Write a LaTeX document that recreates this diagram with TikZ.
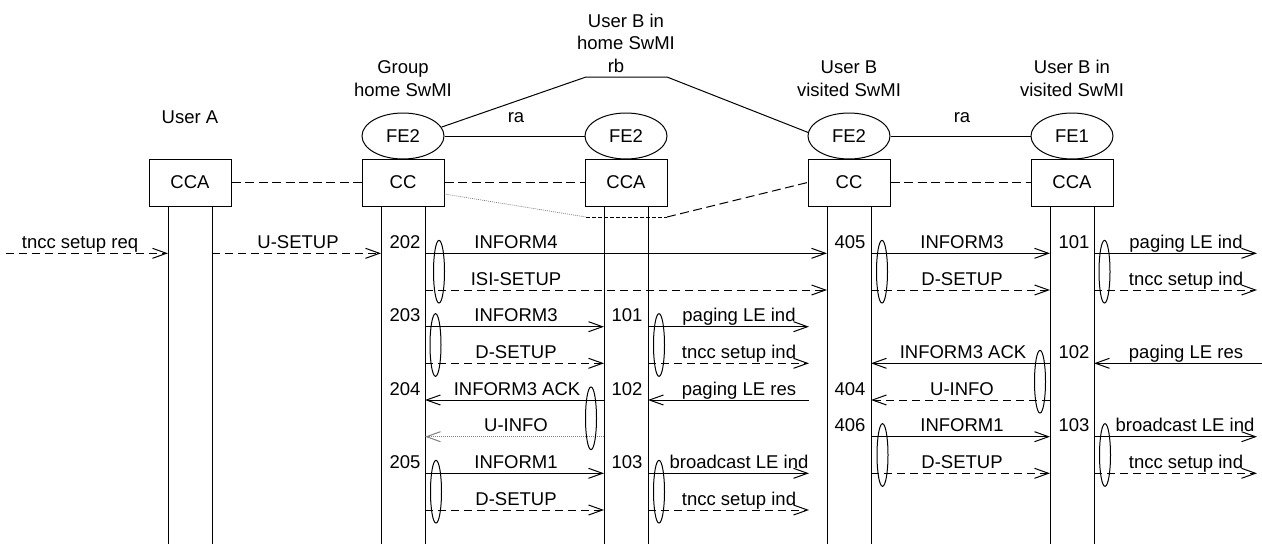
\documentclass[tikz,border=0pt]{standalone}
\usepackage{fontspec}
\setmainfont{Liberation Sans}
\usetikzlibrary{arrows.meta,shapes.geometric}
\begin{document}
\begin{tikzpicture}[x=1pt,y=-1pt,
  every node/.style={font=\fontsize{18.5}{22.5}\selectfont, inner sep=0pt},
  box/.style={draw, line width=1pt, minimum width=82pt, minimum height=47pt},
  fe/.style={draw, ellipse, line width=1pt, minimum width=82pt, minimum height=46pt},
  grp/.style={draw, ellipse, line width=1pt, minimum width=11pt, minimum height=62.7pt},
  ln/.style={line width=1pt},
  tdash/.style={line width=1pt, dash pattern=on 9pt off 4.5pt},
  msg/.style={line width=1pt, -{Straight Barb[length=14pt,width=10pt]}},
  dmsg/.style={msg, dash pattern=on 8pt off 5pt},
  gmsg/.style={msg, draw=gray, dash pattern=on 1pt off 1pt},
  lbl/.style={anchor=base},
  hdr/.style={anchor=south, align=center}]
\useasboundingbox (0,0) rectangle (1262,544);

% rows
\coordinate (r1) at (0,253.3);
\coordinate (r2) at (0,290);
\coordinate (r3) at (0,326.7);
\coordinate (r4) at (0,363.3);
\coordinate (r5) at (0,400);
\coordinate (r6) at (0,436.7);
\coordinate (r7) at (0,473.3);
\coordinate (r8) at (0,510);
\coordinate (bottom) at (0,544);
% lifelines x
\coordinate (aL) at (168,0);  \coordinate (aR) at (212,0);
\coordinate (gL) at (381,0);  \coordinate (gR) at (425,0);
\coordinate (hL) at (604,0);  \coordinate (hR) at (648,0);
\coordinate (vL) at (827,0);  \coordinate (vR) at (871,0);
\coordinate (bL) at (1050,0); \coordinate (bR) at (1094,0);
\coordinate (lft) at (6,0);
\coordinate (hEnd) at (809,0);
\coordinate (rtip) at (1257,0);
\coordinate (redge) at (1262,0);

% headers
\node[lbl] (hA) at (190,123.6) {User A};
\node[hdr] (hG) at (403,96.6) {Group\\home SwMI};
\node[hdr] (hH) at (626,50) {User B in\\home SwMI};
\node[hdr] (hV) at (849,96.6) {User B\\visited SwMI};
\node[hdr] (hB) at (1072,96.6) {User B in\\visited SwMI};
\node[lbl] (rbl) at (616,72) {rb};
\node[lbl] (ra1) at (516,122.5) {ra};
\node[lbl] (ra2) at (962,122.5) {ra};

% FE ellipses
\node[fe] (feG) at (403,136) {FE2};
\node[fe] (feH) at (626,136) {FE2};
\node[fe] (feV) at (849,136) {FE2};
\node[fe] (feB) at (1072,136) {FE1};

% boxes
\node[box] (boxA) at (190,182.5) {CCA};
\node[box] (boxG) at (403,182.5) {CC};
\node[box] (boxH) at (626,182.5) {CCA};
\node[box] (boxV) at (849,182.5) {CC};
\node[box] (boxB) at (1072,182.5) {CCA};

% FE links
\draw[ln] (feG.east) -- (feH.west);
\draw[ln] (feV.east) -- (feB.west);
\coordinate (rb1) at (586,77);
\coordinate (rb2) at (667,77);
\draw[ln] (feG.13) -- (rb1) -- (rb2) -- (feV.175);

% box links
\draw[tdash] (boxA.east) -- (boxG.west);
\draw[tdash] (boxG.east) -- (boxH.west);
\draw[tdash] (boxV.east) -- (boxB.west);
\coordinate (mj1) at (586,217);
\coordinate (mj2) at (667,217);
\draw[gray, line width=0.7pt, dash pattern=on 1pt off 1pt] ([yshift=-11.5pt]boxG.east) -- (mj1);
\draw[line width=1pt, dash pattern=on 4pt off 2pt] (mj1) -- (mj2);
\draw[tdash] (mj2) -- (boxV.west);

% lifelines
\foreach \c/\b in {aL/boxA,aR/boxA,gL/boxG,gR/boxG,hL/boxH,hR/boxH,vL/boxV,vR/boxV,bL/boxB,bR/boxB}
  \draw[ln] (\b.south -| \c) -- (\c |- bottom);

% row 1
\draw[dmsg] (lft |- r1) -- (aL |- r1);
\node[lbl] (t1) at (80,248.3) {tncc setup req};
\draw[dmsg] (aR |- r1) -- (gL |- r1);
\node[lbl] (t2) at (298,248.3) {U-SETUP};
\node[lbl] (n202) at (405,248.3) {202};
\draw[msg] (gR |- r1) -- (vL |- r1);
\node[lbl] (t3) at (516,248.3) {INFORM4};
\node[lbl] (n405) at (850,248.3) {405};
\draw[msg] (vR |- r1) -- (bL |- r1);
\node[lbl] (t4) at (962,248.3) {INFORM3};
\node[lbl] (nb101) at (1074,248.3) {101};
\draw[msg] (bR |- r1) -- (rtip |- r1);
\node[lbl] (t5) at (1186,248.3) {paging LE ind};

% row 2
\draw[dmsg] (gR |- r2) -- (vL |- r2);
\node[lbl] (t6) at (516,285) {ISI-SETUP};
\draw[dmsg] (vR |- r2) -- (bL |- r2);
\node[lbl] (t7) at (962,285) {D-SETUP};
\draw[dmsg] (bR |- r2) -- (rtip |- r2);
\node[lbl] (t8) at (1186,285) {tncc setup ind};

% row 3
\node[lbl] (n203) at (405,321.7) {203};
\draw[msg] (gR |- r3) -- (hL |- r3);
\node[lbl] (t9) at (516,321.7) {INFORM3};
\node[lbl] (nh101) at (627,321.7) {101};
\draw[msg] (hR |- r3) -- (hEnd |- r3);
\node[lbl] (t10) at (739,321.7) {paging LE ind};

% row 4
\draw[dmsg] (gR |- r4) -- (hL |- r4);
\node[lbl] (t11) at (516,358.3) {D-SETUP};
\draw[dmsg] (hR |- r4) -- (hEnd |- r4);
\node[lbl] (t12) at (739,358.3) {tncc setup ind};
\draw[msg] (bL |- r4) -- (vR |- r4);
\node[lbl] (t13) at (963,358.3) {INFORM3 ACK};
\node[lbl] (nb102) at (1074,358.3) {102};
\draw[msg] (redge |- r4) -- (bR |- r4);
\node[lbl] (t14) at (1186,358.3) {paging LE res};

% row 5
\node[lbl] (n204) at (405,395) {204};
\draw[msg] (hL |- r5) -- (gR |- r5);
\node[lbl] (t15) at (517,395) {INFORM3 ACK};
\node[lbl] (nh102) at (627,395) {102};
\draw[msg] (hEnd |- r5) -- (hR |- r5);
\node[lbl] (t16) at (739,395) {paging LE res};
\node[lbl] (n404) at (850,395) {404};
\draw[dmsg] (bL |- r5) -- (vR |- r5);
\node[lbl] (t17) at (962,395) {U-INFO};

% row 6
\draw[gmsg] (hL |- r6) -- (gR |- r6);
\node[lbl] (t18) at (516,431.7) {U-INFO};
\node[lbl] (n406) at (850,431.7) {406};
\draw[msg] (vR |- r6) -- (bL |- r6);
\node[lbl] (t19) at (962,431.7) {INFORM1};
\node[lbl] (nb103) at (1074,431.7) {103};
\draw[msg] (bR |- r6) -- (rtip |- r6);
\node[lbl] (t20) at (1185,431.7) {broadcast LE ind};

% row 7
\node[lbl] (n205) at (405,468.3) {205};
\draw[msg] (gR |- r7) -- (hL |- r7);
\node[lbl] (t21) at (516,468.3) {INFORM1};
\node[lbl] (nh103) at (627,468.3) {103};
\draw[msg] (hR |- r7) -- (hEnd |- r7);
\node[lbl] (t22) at (739,468.3) {broadcast LE ind};
\draw[dmsg] (vR |- r7) -- (bL |- r7);
\node[lbl] (t23) at (962,468.3) {D-SETUP};
\draw[dmsg] (bR |- r7) -- (rtip |- r7);
\node[lbl] (t24) at (1186,468.3) {tncc setup ind};

% row 8
\draw[dmsg] (gR |- r8) -- (hL |- r8);
\node[lbl] (t25) at (516,505) {D-SETUP};
\draw[dmsg] (hR |- r8) -- (hEnd |- r8);
\node[lbl] (t26) at (739,505) {tncc setup ind};

% grouping ellipses
\node[grp] (e202) at (439,271.7) {};
\node[grp] (e203) at (435.5,345) {};
\node[grp] (e204) at (591,418.3) {};
\node[grp] (e205) at (436,491.7) {};
\node[grp] (eh101) at (659,345) {};
\node[grp] (eh103) at (659,491.7) {};
\node[grp] (e405) at (882,271.7) {};
\node[grp] (e406) at (882.5,455) {};
\node[grp] (evack) at (1040,381.7) {};
\node[grp] (eb101) at (1104.5,271.7) {};
\node[grp] (eb103) at (1105,455) {};
\end{tikzpicture}
\end{document}
